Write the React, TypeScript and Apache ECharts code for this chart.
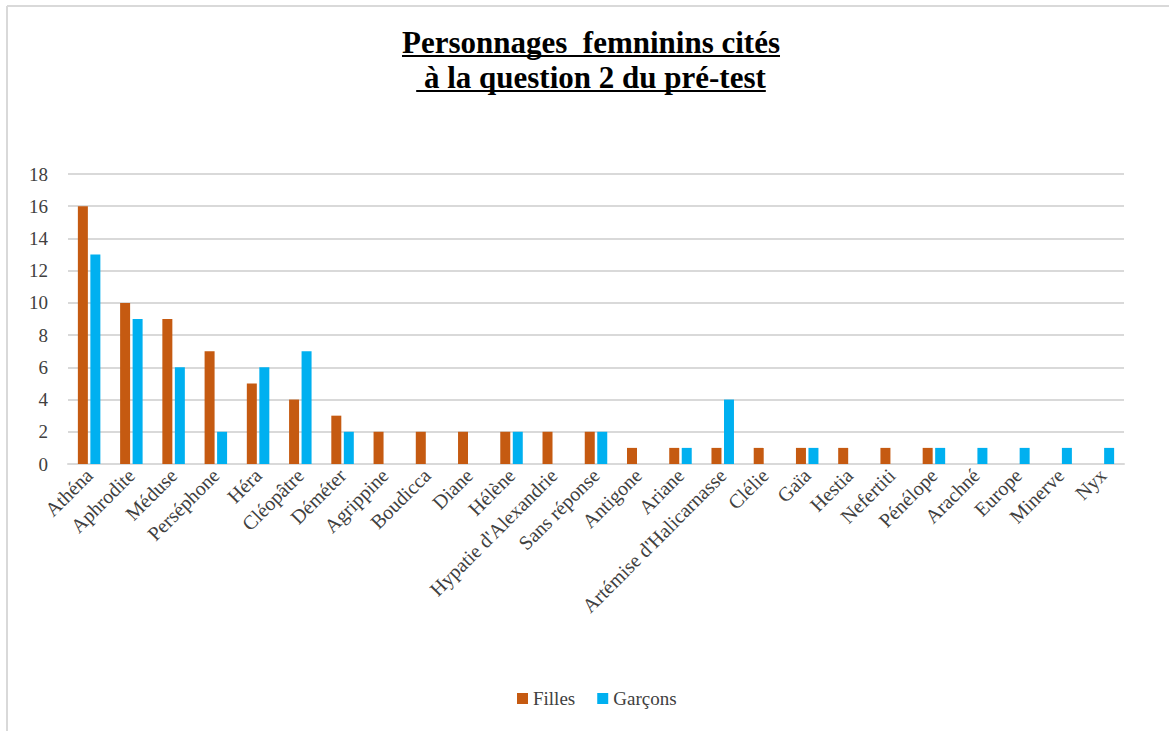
import React, { useEffect, useRef } from "react";
import * as echarts from "echarts";

const categories = [
  "Athéna", "Aphrodite", "Méduse", "Perséphone", "Héra", "Cléopâtre", "Déméter",
  "Agrippine", "Boudicca", "Diane", "Hélène", "Hypatie d'Alexandrie", "Sans réponse",
  "Antigone", "Ariane", "Artémise d'Halicarnasse", "Clélie", "Gaïa", "Hestia",
  "Nefertiti", "Pénélope", "Arachné", "Europe", "Minerve", "Nyx",
];
const filles = [16, 10, 9, 7, 5, 4, 3, 2, 2, 2, 2, 2, 2, 1, 1, 1, 1, 1, 1, 1, 1, 0, 0, 0, 0];
const garcons = [13, 9, 6, 2, 6, 7, 2, 0, 0, 0, 2, 0, 2, 0, 1, 4, 0, 1, 0, 0, 1, 1, 1, 1, 1];
const titleLines = ["Personnages  femninins cités", " à la question 2 du pré-test"];

const FONT = "Liberation Serif";
const TITLE_SIZE = 31;
const TITLE_CX = 591;

function measure(text: string): number {
  const c = document.createElement("canvas").getContext("2d")!;
  c.font = `bold ${TITLE_SIZE}px "${FONT}"`;
  return c.measureText(text).width;
}

export default function App() {
  const ref = useRef<HTMLDivElement>(null);
  useEffect(() => {
    document.body.style.margin = "0";
    const chart = echarts.init(ref.current!, null, { renderer: "svg" });
    const w1 = measure(titleLines[0]);
    const w2 = measure(titleLines[1]);
    const titleStyle = {
      fontFamily: FONT, fontWeight: "bold", fontSize: TITLE_SIZE, fill: "#000",
      textAlign: "center", textVerticalAlign: "middle",
    };
    chart.setOption({
      animation: false,
      backgroundColor: "#fff",
      textStyle: { fontFamily: FONT },
      graphic: [
        { type: "line", shape: { x1: 7, y1: 6, x2: 1169, y2: 6 }, style: { stroke: "#D9D9D9", lineWidth: 2 } },
        { type: "line", shape: { x1: 7, y1: 6, x2: 7, y2: 731 }, style: { stroke: "#D9D9D9", lineWidth: 2 } },
        { type: "text", x: TITLE_CX, y: 42, style: { ...titleStyle, text: titleLines[0] } },
        { type: "text", x: TITLE_CX, y: 77, style: { ...titleStyle, text: titleLines[1] } },
        { type: "line", shape: { x1: TITLE_CX - w1 / 2, y1: 56, x2: TITLE_CX + w1 / 2, y2: 56 }, style: { stroke: "#000", lineWidth: 2 } },
        { type: "line", shape: { x1: TITLE_CX - w2 / 2, y1: 91, x2: TITLE_CX + w2 / 2, y2: 91 }, style: { stroke: "#000", lineWidth: 2 } },
      ],
      legend: {
        data: ["Filles", "Garçons"],
        bottom: 18,
        left: 512,
        itemWidth: 11,
        itemHeight: 11,
        itemGap: 22,
        icon: "rect",
        textStyle: { fontFamily: FONT, fontSize: 19, color: "#404040" },
      },
      grid: { left: 68, right: 45, top: 174, bottom: 267, containLabel: false },
      xAxis: {
        type: "category",
        data: categories,
        axisLine: { lineStyle: { color: "#D9D9D9", width: 2 } },
        axisTick: { show: false },
        axisLabel: {
          interval: 0,
          rotate: 45,
          fontFamily: FONT,
          fontSize: 20,
          color: "#404040",
          margin: 8,
        },
      },
      yAxis: {
        type: "value",
        min: 0,
        max: 18,
        interval: 2,
        axisLine: { show: false },
        axisTick: { show: false },
        splitLine: { lineStyle: { color: "#D9D9D9", width: 2 } },
        axisLabel: { fontFamily: FONT, fontSize: 19, color: "#404040", margin: 20 },
      },
      series: [
        {
          name: "Filles",
          type: "bar",
          data: filles,
          barWidth: 10,
          barGap: "25%",
          itemStyle: { color: "#C55A11" },
        },
        {
          name: "Garçons",
          type: "bar",
          data: garcons,
          barWidth: 10,
          itemStyle: { color: "#00B0F0" },
        },
      ],
    });
    return () => chart.dispose();
  }, []);
  return <div ref={ref} style={{ width: 1169, height: 731 }} />;
}
